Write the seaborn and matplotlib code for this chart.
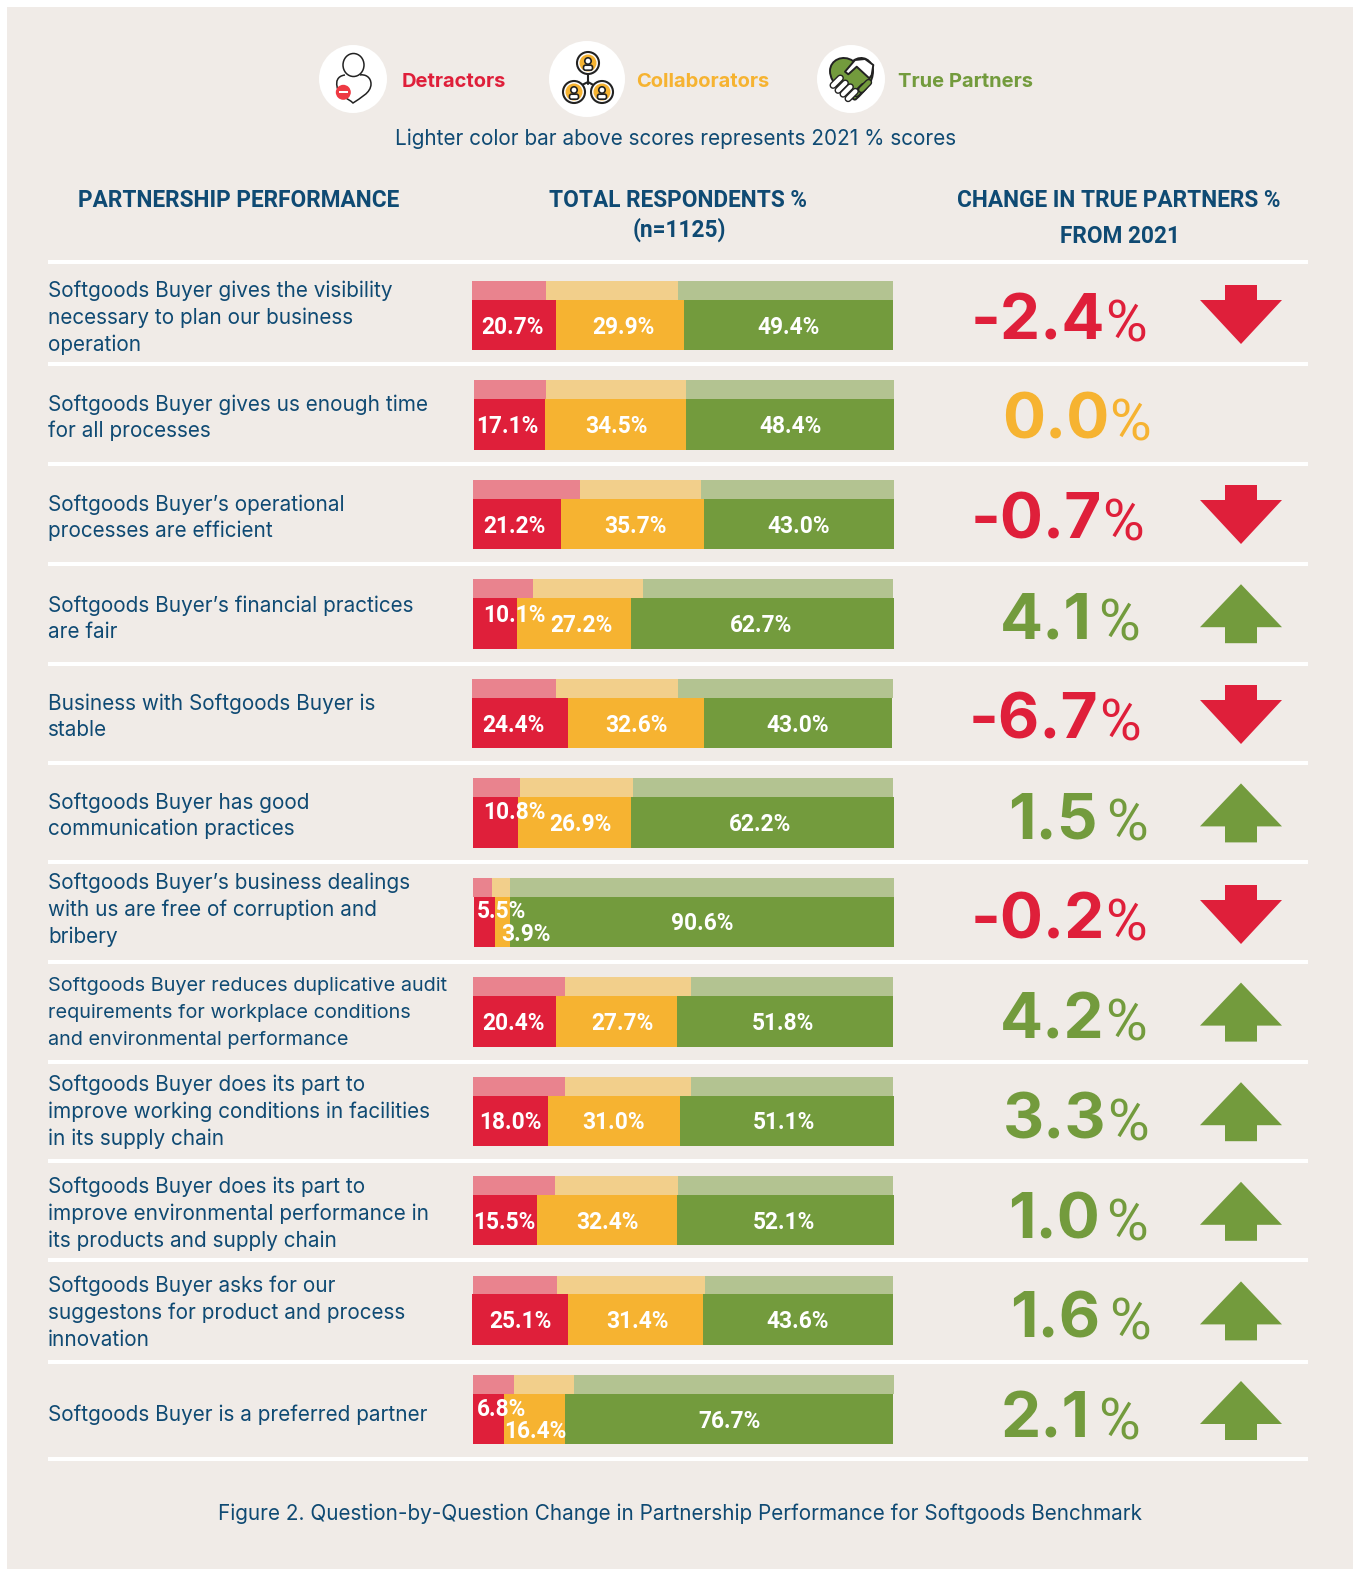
import matplotlib
matplotlib.use("Agg")
import matplotlib.pyplot as plt
import seaborn as sns
from matplotlib.patches import Circle, Ellipse, PathPatch, Polygon, Rectangle, FancyBboxPatch
from matplotlib.path import Path

statements = [
    ["Softgoods Buyer gives the visibility", "necessary to plan our business", "operation"],
    ["Softgoods Buyer gives us enough time", "for all processes"],
    ["Softgoods Buyer\u2019s operational", "processes are efficient"],
    ["Softgoods Buyer\u2019s financial practices", "are fair"],
    ["Business with Softgoods Buyer is", "stable"],
    ["Softgoods Buyer has good", "communication practices"],
    ["Softgoods Buyer\u2019s business dealings", "with us are free of corruption and", "bribery"],
    ["Softgoods Buyer reduces duplicative audit", "requirements for workplace conditions", "and environmental performance"],
    ["Softgoods Buyer does its part to", "improve working conditions in facilities", "in its supply chain"],
    ["Softgoods Buyer does its part to", "improve environmental performance in", "its products and supply chain"],
    ["Softgoods Buyer asks for our", "suggestons for product and process", "innovation"],
    ["Softgoods Buyer is a preferred partner"],
]
rows = list(range(12))

# printed scores
det_label = ["20.7%", "17.1%", "21.2%", "10.1%", "24.4%", "10.8%", "5.5%", "20.4%", "18.0%", "15.5%", "25.1%", "6.8%"]
col_label = ["29.9%", "34.5%", "35.7%", "27.2%", "32.6%", "26.9%", "3.9%", "27.7%", "31.0%", "32.4%", "31.4%", "16.4%"]
tru_label = ["49.4%", "48.4%", "43.0%", "62.7%", "43.0%", "62.2%", "90.6%", "51.8%", "51.1%", "52.1%", "43.6%", "76.7%"]

# bar lengths as drawn in the picture, these differ a bit from the printed scores
det_now = [19.95, 16.9, 20.9, 10.5, 22.8, 10.7, 5.0, 19.7, 17.8, 15.2, 22.8, 7.4]
col_now = [30.4, 33.5, 34.0, 27.1, 32.3, 26.8, 3.6, 28.7, 31.4, 33.3, 32.1, 14.5]
tru_now = [49.64, 49.4, 45.1, 62.5, 44.7, 62.5, 91.2, 51.3, 50.8, 51.5, 45.1, 77.9]
now_start = [-0.24, 0.24, 0, 0, -0.24, 0, 0.24, 0, 0, 0, -0.24, 0]

det_2021 = [17.6, 17.1, 25.4, 14.2, 20.0, 11.2, 4.5, 21.9, 21.9, 19.5, 19.9, 9.7]
col_2021 = [31.4, 33.3, 28.7, 26.2, 29.0, 26.9, 4.4, 29.8, 29.8, 29.3, 35.1, 14.3]
tru_2021 = [51.1, 49.3, 45.8, 59.4, 51.1, 61.7, 91.1, 48.1, 48.1, 51.0, 44.8, 76.0]
old_start = [-0.24, 0.24, 0, 0, -0.24, 0, 0, 0, 0, 0, 0, 0]

change = ["-2.4", "0.0", "-0.7", "4.1", "-6.7", "1.5", "-0.2", "4.2", "3.3", "1.0", "1.6", "2.1"]

RED = "#df1f3a"
ORANGE = "#f6b331"
GREEN = "#739b3d"
RED_L = "#e9838e"
ORANGE_L = "#f2cf8b"
GREEN_L = "#b3c391"
NAVY = "#0f4a73"
BG = "#f0ebe7"
INK = "#222222"

sns.set_theme(style="white")
plt.rcParams["font.family"] = ["Inter", "DejaVu Sans"]

W, H = 1359, 1569
fig = plt.figure(figsize=(W / 100, H / 100), dpi=100, facecolor="white")

# page axes in pixels for everything that is not a bar
page = fig.add_axes([0, 0, 1, 1])
page.set_xlim(0, W)
page.set_ylim(H, 0)
page.set_axis_off()
page.add_patch(Rectangle((7, 7), 1346, 1562, fc=BG, ec="none"))

for y in [262, 364, 464, 564, 664, 763, 862, 962, 1062, 1161, 1260, 1362, 1459]:
    page.add_patch(Rectangle((48, y - 2), 1260, 4, fc="white", ec="none"))


def bar_axes(center_first):
    top = center_first - 99.45 / 2
    height = 99.45 * 12
    ax = fig.add_axes([473 / W, 1 - (top + height) / H, 421 / W, height / H])
    ax.patch.set_visible(False)
    return ax


def stack(ax, start, det, col, tru, colors, thick):
    left = list(start)
    for vals, c in zip([det, col, tru], colors):
        sns.barplot(x=vals, y=rows, orient="y", order=rows, color=c, saturation=1,
                    width=thick, left=left, ax=ax, linewidth=0, clip_on=False)
        left = [a + b for a, b in zip(left, vals)]
    ax.set_xlim(0, 100)
    ax.set_ylim(11.5, -0.5)
    ax.set_axis_off()


ax_old = bar_axes(290.5)
stack(ax_old, old_start, det_2021, col_2021, tru_2021, [RED_L, ORANGE_L, GREEN_L], 19 / 99.45)
ax_now = bar_axes(325.2)
stack(ax_now, now_start, det_now, col_now, tru_now, [RED, ORANGE, GREEN], 50.5 / 99.45)

# label nudges from the segment centre, in pixels (dx, up)
nudge = {
    (0, 0): (-1, 0), (0, 1): (3, 0), (1, 0): (-2, 0), (1, 1): (1, 0),
    (2, 0): (-3, 0), (2, 1): (3, 0),
    (3, 0): (19, 10), (3, 1): (7, 0), (3, 2): (-2, 0),
    (4, 0): (-7, 0), (4, 1): (1, 0),
    (5, 0): (19, 12), (5, 1): (6, 0), (5, 2): (-2, 0),
    (6, 0): (17, 12), (6, 1): (23, -11),
    (7, 0): (-1, 0), (7, 1): (6, 0), (7, 2): (-2, 0),
    (8, 2): (-3, 0), (9, 0): (-1, 0), (9, 2): (-2, 0),
    (10, 1): (2, 0),
    (11, 0): (13, 12), (11, 1): (1, -10),
}
for i in rows:
    left = now_start[i]
    for s, (lab, val) in enumerate(zip([det_label[i], col_label[i], tru_label[i]],
                                       [det_now[i], col_now[i], tru_now[i]])):
        dx, dy = nudge.get((i, s), (0, 0))
        ax_now.annotate(lab, xy=(left + val / 2, i), xytext=(dx, dy - 2), textcoords="offset pixels",
                        ha="center", va="center", color="white", fontsize=16.4,
                        fontweight="bold", family="Roboto", annotation_clip=False)
        left += val

# left column
block_mid = [316, 416, 516, 617, 715, 814, 908, 1010, 1110, 1212, 1311, 1413]
for i, (mid, lines) in enumerate(zip(block_mid, statements)):
    size = 14.3 if i == 7 else 14.95
    for j, line in enumerate(lines):
        y = mid + 8 + (j - (len(lines) - 1) / 2) * 26.6
        page.text(48, y, line, color=NAVY, fontsize=size, va="baseline", ha="left")

# headers
for x, y, s in [(239, 207, "PARTNERSHIP PERFORMANCE"),
                (678, 207, "TOTAL RESPONDENTS %"), (679, 237, "(n=1125)"),
                (1119, 207, "CHANGE IN TRUE PARTNERS %"), (1120, 243, "FROM 2021")]:
    page.text(x, y, s, color=NAVY, fontsize=16.25, fontweight="bold", family="Roboto", ha="center", va="baseline")

# legend
for x, s, c in [(402, "Detractors", RED), (636, "Collaborators", ORANGE), (898, "True Partners", GREEN)]:
    page.text(x, 87, s, color=c, fontsize=14.5, fontweight="bold", ha="left", va="baseline")
page.text(676, 145, "Lighter color bar above scores represents 2021 % scores", color=NAVY,
          fontsize=14.9, ha="center", va="baseline")
page.text(680, 1520, "Figure 2. Question-by-Question Change in Partnership Performance for Softgoods Benchmark",
          color=NAVY, fontsize=14.9, ha="center", va="baseline")

# change column
num_left = [971, 1002, 971, 1000, 969, 1008, 971, 1000, 1003, 1008, 1010, 1001]
pct_right = [1146, 1147, 1140, 1139, 1140, 1147, 1145, 1146, 1148, 1147, 1150, 1139]
renderer = fig.canvas.get_renderer()
for i, s in enumerate(change):
    val = float(s)
    c = RED if val < 0 else (ORANGE if val == 0 else GREEN)
    base = 339 + 99.9 * i
    t = page.text(num_left[i], base, s, color=c, fontsize=46, fontweight="bold",
                  ha="left", va="baseline")
    x1 = page.transData.inverted().transform(t.get_window_extent(renderer).max)[0]
    page.text(max(x1, pct_right[i] - 41), base + 2, "%", color=c, fontsize=41, family="Roboto",
              ha="left", va="baseline")
    if val < 0:
        y0 = 285 + 100 * i
        pts = [(1225, y0), (1257, y0), (1257, y0 + 15), (1282, y0 + 15), (1241, y0 + 59),
               (1200, y0 + 15), (1225, y0 + 15)]
        page.add_patch(Polygon(pts, closed=True, fc=RED, ec="none"))
    elif val > 0:
        y0 = 1381 - 99.6 * (11 - i)
        pts = [(1241, y0), (1282, y0 + 43), (1257, y0 + 43), (1257, y0 + 59), (1225, y0 + 59),
               (1225, y0 + 43), (1200, y0 + 43)]
        page.add_patch(Polygon(pts, closed=True, fc=GREEN, ec="none"))


# icons, rough line drawings
def person(cx, cy):
    page.add_patch(Circle((cx, cy), 11, fc="white", ec=INK, lw=1.5, zorder=4))
    page.add_patch(Circle((cx, cy), 8.5, fc=ORANGE, ec="none", zorder=4))
    page.add_patch(Circle((cx, cy - 2), 3.2, fc="white", ec=INK, lw=1.2, zorder=5))
    page.add_patch(FancyBboxPatch((cx - 4.5, cy + 2.2), 9, 5, boxstyle="round,pad=0,rounding_size=2",
                                  fc="white", ec=INK, lw=1.2, zorder=5))


def finger(cx, cy, fill, z=4):
    for lw, col in [(5.2, INK), (3.2, fill)]:
        page.plot([cx - 3.6, cx + 3.6], [cy + 3.6, cy - 3.6], color=col, lw=lw,
                  solid_capstyle="round", zorder=z)


page.add_patch(Circle((353, 79), 34, fc="white", ec="none"))
page.add_patch(Ellipse((353.5, 65), 21, 23, fc="none", ec=INK, lw=1.1))
body = Path([(345, 75), (337, 76), (336, 82), (337, 86), (338, 96), (348, 98), (353, 103),
             (360, 98), (371, 93), (371, 84), (371, 77), (365, 74), (360, 75)],
            [Path.MOVETO] + [Path.CURVE4] * 12)
page.add_patch(PathPatch(body, fc="none", ec=INK, lw=1.1))
page.add_patch(Circle((343.3, 92.3), 7.5, fc="#ee3a43", ec="none"))
page.add_patch(Rectangle((339, 91.2), 8.5, 2.2, fc="white", ec="none"))

page.add_patch(Circle((587, 79), 38, fc="white", ec="none"))
page.plot([588, 588], [74, 84], color=INK, lw=1.5)
page.plot([578, 588, 597], [87, 82, 87], color=INK, lw=1.5)
person(588, 63)
person(574, 92)
person(602, 92)

page.add_patch(Circle((851, 79), 34, fc="white", ec="none"))
heart = Path([(855, 100), (845, 94), (830, 84), (830, 71), (830, 60), (843, 54), (853, 61),
              (862, 54), (873, 60), (873, 71), (873, 82), (866, 90), (855, 100)],
             [Path.MOVETO] + [Path.CURVE4] * 12)
page.add_patch(PathPatch(heart, fc=GREEN, ec=INK, lw=1.4))
hand = Polygon([(845, 71.7), (855, 60), (865, 59), (873.3, 65), (871.7, 75), (869.3, 78.3),
                (856.7, 66.7), (848.3, 74.3)],
               closed=True, fc="white", ec=INK, lw=1.4, joinstyle="round", zorder=3)
page.add_patch(hand)
for cx, cy in [(836.7, 81.7), (841.7, 86.7), (846.7, 90.5), (851.7, 95)]:
    finger(cx, cy, "white")
for cx, cy in [(860, 90), (865, 86)]:
    finger(cx, cy, GREEN, z=3)

fig.savefig("out.png", dpi=100, facecolor="white")
